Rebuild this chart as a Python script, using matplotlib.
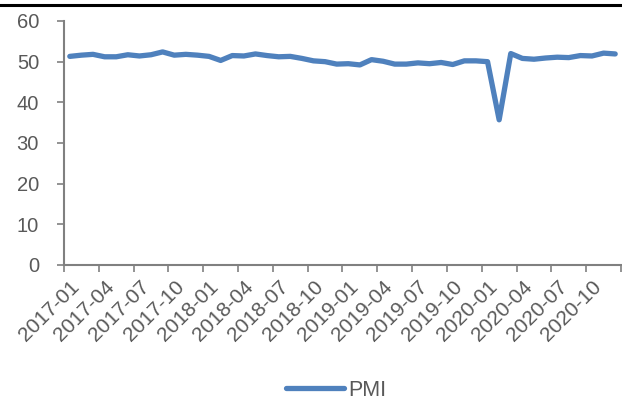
import matplotlib.pyplot as plt
import matplotlib.lines as mlines

plt.rcParams['font.family'] = ['Liberation Sans', 'DejaVu Sans']

# monthly PMI, 2017-01 .. 2020-12
months = ['%d-%02d' % (y, m) for y in range(2017, 2021) for m in range(1, 13)]
pmi_2017 = [51.3, 51.6, 51.8, 51.2, 51.2, 51.7, 51.4, 51.7, 52.4, 51.6, 51.8, 51.6]
pmi_2018 = [51.3, 50.3, 51.5, 51.4, 51.9, 51.5, 51.2, 51.3, 50.8, 50.2, 50.0, 49.4]
pmi_2019 = [49.5, 49.2, 50.5, 50.1, 49.4, 49.4, 49.7, 49.5, 49.8, 49.3, 50.2, 50.2]
pmi_2020 = [50.0, 35.7, 52.0, 50.8, 50.6, 50.9, 51.1, 51.0, 51.5, 51.4, 52.1, 51.9]
pmi = pmi_2017 + pmi_2018 + pmi_2019 + pmi_2020
yticks = [0, 10, 20, 30, 40, 50, 60]

blue = '#4F81BD'
grey = '#808080'
txt = '#595959'

fig = plt.figure(figsize=(6.22, 4.0), dpi=100)
ax = fig.add_axes([64 / 622, 1 - 265 / 400, (621 - 64) / 622, (265 - 21) / 400])

x = list(range(len(months)))
ax.plot(x, pmi, color=blue, linewidth=3.8, solid_capstyle='round',
        solid_joinstyle='round', label='PMI')

ax.set_xlim(-0.5, len(months) - 0.5)
ax.set_ylim(0, 60)
ax.set_yticks(yticks)
ax.set_yticklabels([str(v) for v in yticks])

# ticks between categories, labels every third month
ax.set_xticks([i - 0.5 for i in range(0, len(months) + 1, 3)], minor=False)
ax.set_xticklabels([])
ax.set_xticks(x[::3], minor=True)
ax.set_xticklabels(months[::3], minor=True, rotation=45, ha='right',
                   va='top', rotation_mode='anchor')
ax.tick_params(axis='x', which='minor', length=0, pad=9, labelsize=15,
               labelcolor=txt)
ax.tick_params(axis='x', which='major', length=5, width=1.2, color=grey,
               direction='out')
ax.tick_params(axis='y', length=5, width=1.2, color=grey, labelsize=14.5,
               labelcolor=txt, pad=13)

for side in ['top', 'right']:
    ax.spines[side].set_visible(False)
for side in ['left', 'bottom']:
    ax.spines[side].set_color(grey)
    ax.spines[side].set_linewidth(1.5)

# black rule across the top
fig.add_artist(mlines.Line2D([0, 1], [1 - 5 / 400, 1 - 5 / 400],
                             color='black', linewidth=2.2))

leg = fig.legend(loc='center', bbox_to_anchor=(0.54, 1 - 390 / 400),
                 frameon=False, fontsize=15.5, handlelength=2.7,
                 handletextpad=0.2)
for t in leg.get_texts():
    t.set_color(txt)

fig.savefig('out.png', dpi=100)
